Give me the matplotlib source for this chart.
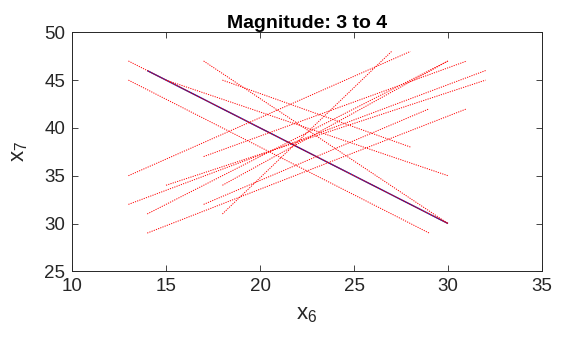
import matplotlib
matplotlib.use("Agg")
import matplotlib.pyplot as plt

# segment endpoints (x6, x7)
asc_x0 = [13, 13, 14, 14, 15, 17, 17, 18, 18]
asc_y0 = [35, 32, 31, 29, 34, 37, 32, 31, 34]
asc_x1 = [28, 32, 30, 31, 32, 31, 29, 27, 30]
asc_y1 = [48, 46, 47, 42, 45, 47, 42, 48, 47]

desc_x0 = [13, 13, 17, 18, 15]
desc_y0 = [47, 45, 47, 45, 45]
desc_x1 = [30, 29, 30, 28, 30]
desc_y1 = [30, 29, 30, 38, 35]

# the single solid (blue) segment
ref_x = [14, 30]
ref_y = [46, 30]

title = "Magnitude: 3 to 4"

plt.rcParams["font.family"] = ["Liberation Sans", "DejaVu Sans"]
plt.rcParams["mathtext.fontset"] = "custom"
plt.rcParams["mathtext.rm"] = "Liberation Sans"
plt.rcParams["mathtext.it"] = "Liberation Sans"

AX_GRAY = "#262626"

fig = plt.figure(figsize=(5.63, 3.44), dpi=100)
ax = fig.add_axes([0.1279, 0.2113, 0.8348, 0.6948])

ax.plot(ref_x, ref_y, color="#2a1a9a", lw=1.0, solid_capstyle="butt")

dot = (0, (1.2, 1.2))
for xa, ya, xb, yb in zip(asc_x0, asc_y0, asc_x1, asc_y1):
    ax.plot([xa, xb], [ya, yb], color="red", lw=0.7, ls=dot)
for xa, ya, xb, yb in zip(desc_x0, desc_y0, desc_x1, desc_y1):
    ax.plot([xa, xb], [ya, yb], color="red", lw=0.7, ls=dot)

ax.set_xlim(10, 35)
ax.set_ylim(25, 50)
ax.set_xticks(range(10, 36, 5))
ax.set_yticks(range(25, 51, 5))
ax.tick_params(direction="in", length=4, width=0.6, top=True, right=True,
               labelsize=13.5, colors=AX_GRAY)
ax.tick_params(axis="x", pad=5)
ax.tick_params(axis="y", pad=5)
for sp in ax.spines.values():
    sp.set_color(AX_GRAY)
    sp.set_linewidth(0.7)

ax.set_title(title, fontsize=14, fontweight="bold", color="black", pad=3)
ax.set_xlabel(r"$\mathrm{x_6}$", fontsize=16, color=AX_GRAY, labelpad=6)
ax.set_ylabel(r"$\mathrm{x_7}$", fontsize=16, color=AX_GRAY, labelpad=10)

fig.savefig("out.png", dpi=100)
